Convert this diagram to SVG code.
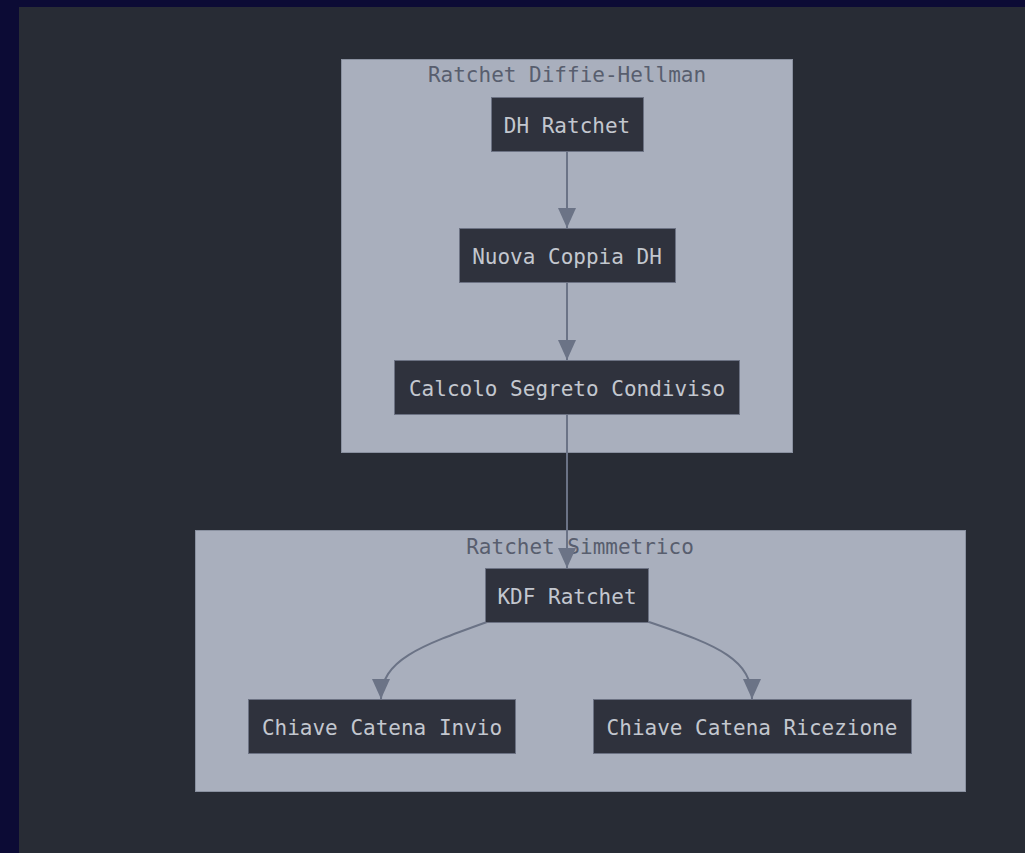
<svg xmlns="http://www.w3.org/2000/svg" width="1025" height="853" viewBox="0 0 1025 853">
  <style>
    .cluster { fill: #a9afbd; stroke: #8a91a0; stroke-width: 1; }
    .cluster-label { font-family: "DejaVu Sans Mono", "Liberation Mono", monospace; font-size: 21px; fill: #585e6e; text-anchor: middle; }
    .node rect { fill: #2f323d; stroke: #6c7283; stroke-width: 1; }
    .node text { font-family: "DejaVu Sans Mono", "Liberation Mono", monospace; font-size: 21px; fill: #c3c7cf; text-anchor: middle; dominant-baseline: central; }
    .edge { fill: none; stroke: #6b7386; stroke-width: 2; }
  </style>
  <defs>
    <marker id="arrowhead" viewBox="0 0 20 20" refX="20" refY="10" markerWidth="20" markerHeight="20" markerUnits="userSpaceOnUse" orient="auto">
      <path d="M0,1 L20,10 L0,19 z" fill="#6b7386"/>
    </marker>
  </defs>

  <!-- frame and canvas -->
  <rect x="0" y="0" width="1025" height="853" fill="#0c0b35"/>
  <rect x="19" y="7" width="1006" height="846" fill="#282c35"/>

  <!-- clusters -->
  <g id="cluster-dh">
    <rect class="cluster" x="341.5" y="59.5" width="451" height="393"/>
    <text class="cluster-label" x="567" y="82">Ratchet Diffie-Hellman</text>
  </g>
  <g id="cluster-sym">
    <rect class="cluster" x="195.5" y="530.5" width="770" height="261"/>
    <text class="cluster-label" x="580" y="554">Ratchet Simmetrico</text>
  </g>

  <!-- connectors -->
  <g id="edges">
    <path class="edge" d="M567,152 L567,228" marker-end="url(#arrowhead)"/>
    <path class="edge" d="M567,283 L567,360" marker-end="url(#arrowhead)"/>
    <path class="edge" d="M567,415 L567,568" marker-end="url(#arrowhead)"/>
    <path class="edge" d="M487,622 C420,646 381,660 381,699" marker-end="url(#arrowhead)"/>
    <path class="edge" d="M649,622 C720,646 752,660 752,699" marker-end="url(#arrowhead)"/>
  </g>

  <!-- nodes -->
  <g id="dh-ratchet" class="node">
    <rect x="491.5" y="97.5" width="152" height="54"/>
    <text x="567" y="126">DH Ratchet</text>
  </g>
  <g id="nuova-coppia" class="node">
    <rect x="459.5" y="228.5" width="216" height="54"/>
    <text x="567" y="257">Nuova Coppia DH</text>
  </g>
  <g id="calcolo-segreto" class="node">
    <rect x="394.5" y="360.5" width="345" height="54"/>
    <text x="567" y="389">Calcolo Segreto Condiviso</text>
  </g>
  <g id="kdf-ratchet" class="node">
    <rect x="485.5" y="568.5" width="163" height="54"/>
    <text x="567" y="597">KDF Ratchet</text>
  </g>
  <g id="catena-invio" class="node">
    <rect x="248.5" y="699.5" width="267" height="54"/>
    <text x="382" y="728">Chiave Catena Invio</text>
  </g>
  <g id="catena-ricezione" class="node">
    <rect x="593.5" y="699.5" width="318" height="54"/>
    <text x="752" y="728">Chiave Catena Ricezione</text>
  </g>
</svg>
